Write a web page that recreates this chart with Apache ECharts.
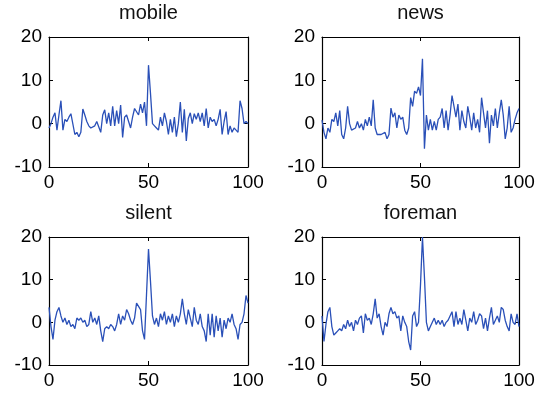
<!DOCTYPE html>
<html>
<head>
<meta charset="utf-8">
<script src="https://cdn.jsdelivr.net/npm/echarts@6/dist/echarts.min.js"></script>
<style>html,body{margin:0;padding:0;background:#fff}#c{width:544px;height:393px}</style>
</head>
<body>
<div id="c"></div>
<script>
var titles = ['mobile', 'news', 'silent', 'foreman'];
var xTicks = [0, 50, 100];
var yTicks = [-10, 0, 10, 20];

var mobile = [-1,0,1.5,2.5,-1.5,2,5.3,-1.5,1,0.5,
1.5,2.3,2.5,-2.5,-2,-3,-2,3.4,2,0.5,
-0.5,-1,-1,-0.5,0.5,0.5,-2,2,3.2,0,
2.5,-0.5,4,-0.5,3,0,4.3,-3.2,1.5,2,
0.5,-1,1.5,3.5,3.2,2,4.5,2.5,5,-0.5,
13.5,7,0,-0.5,-1,-1.5,1.5,-0.5,2.5,0.5,
-2.5,1,-2,1.5,-3,0,5,-2,3.3,-4,
1.2,2.5,0,2.3,1,2.5,0.5,2.5,-0.5,3.5,
-1,1.5,0.5,1,-0.5,1,3.3,-2.5,0.5,2.8,
-2.5,-0.5,-2,-1,-1.5,-2,5.3,3.5,0,0.5,
0];

var news = [0.8,-2,-3.5,-1,-2,1,0.5,2.5,-0.5,3,
-2.5,-3.5,-1,4,0,-1.5,-1.5,-1,0.5,-1,
0,-1.5,1,-0.5,1.5,-0.5,5.5,-1,-2.5,-2.5,
-2.5,-2.5,-2,-3.5,-2.5,3.6,1.5,2.5,-1,2,
1,1.5,-1.5,-2.5,-1,6,4,7.5,7,8.5,
6.5,15,-5.8,2,-1.5,1,-1.5,0.5,-1.5,1,
1.5,3.5,-1,3,-1.5,2,6.5,4,1.5,4.5,
-1.5,3,0.5,-1,4,1.5,-1.5,2.5,-1,1,
-2,6,2.5,-1,3,-4.5,2,-0.5,3.5,-1,
2.5,5.5,2,-3.5,-1,4,-2,-1,1,2.5,
3.5];

var silent = [3.5,-1,-4,0.5,2.5,3.5,1.5,0,1,-0.5,
0.5,-1,-0.5,-1.5,1,0.5,1,0,0.5,-1,
-0.5,2.5,0,1,-0.5,1.5,-2,-4.5,-1.5,-1,
-1.5,-0.5,-1,-2,-0.5,2,-0.5,1.5,0.5,3,
2,0.5,-0.5,1,4.5,4.5,3,-2,-4,6.5,
17.2,9.6,1.5,-0.5,1,-1,2,0.5,2.5,-0.5,
1.5,0,2,-1,1.5,0,2,5.5,2,-0.5,
3,1,-1,3.5,0.5,-0.5,2,-1,-2,-4.5,
2,-3,2,-3.5,1.5,-2,1,-3.5,0.5,-1.5,
1,0,2,-0.5,-1.5,-4,-0.5,0,2,6.3,
4.5];

var foreman = [1.5,-4.5,-0.5,2.5,3.5,-1,-3,-2.5,-2,-1.5,
-2,-0.5,-1.5,0.5,-1,0,-2,0.5,-0.5,1,
1.5,-2.5,2,0.5,1,-0.5,2,5.5,1,2,
-1,-3,0,-1,2,3.5,2,2.5,1,1.5,
-2,1.5,0,-1,-4.5,-6.5,1.5,2.5,-1,0,
8.8,20,10.6,0,-2,-1,0,1,-0.5,0.5,
-0.5,0.5,-1,0,0.5,1.5,2.5,-1,2.5,-0.5,
1,-0.5,3,0.5,-2,1,0,2.5,-0.5,0.5,
2,1.5,-1.5,1,-2,1,3.5,-0.5,0.5,1.5,
0,3.5,3,0.5,-1,-2,2,0,-0.5,2,
-1];

var seriesData = [mobile, news, silent, foreman];

var grids = [
  {left: 49, top: 37, width: 199, height: 130},
  {left: 322, top: 37, width: 197, height: 130},
  {left: 49, top: 237, width: 199, height: 128},
  {left: 322, top: 237, width: 197, height: 128}
];

var FONT = '"Liberation Sans", Arial, Helvetica, sans-serif';
var LINE = '#2a50b8';

var option = {
  animation: false,
  backgroundColor: '#fff',
  grid: grids.map(function (g) { return Object.assign({containLabel: false}, g); }),
  xAxis: [],
  yAxis: [],
  series: [],
  graphic: []
};

grids.forEach(function (g, k) {
  var axisLine = {show: true, onZero: false, lineStyle: {color: '#000', width: 1.2}};
  var tick = {show: true, inside: true, length: 4, lineStyle: {color: '#000', width: 1}};
  option.xAxis.push({
    type: 'value', gridIndex: k, min: xTicks[0], max: xTicks[xTicks.length - 1], interval: 50,
    position: 'bottom', axisLine: axisLine, axisTick: tick, splitLine: {show: false},
    axisLabel: {show: true, color: '#000', fontSize: 19, fontFamily: FONT, margin: 6}
  });
  option.xAxis.push({
    type: 'value', gridIndex: k, min: xTicks[0], max: xTicks[xTicks.length - 1], interval: 50,
    position: 'top', axisLine: axisLine, axisTick: tick, splitLine: {show: false},
    axisLabel: {show: false}
  });
  option.yAxis.push({
    type: 'value', gridIndex: k, min: yTicks[0], max: yTicks[yTicks.length - 1], interval: 10,
    position: 'left', axisLine: axisLine, axisTick: tick, splitLine: {show: false},
    axisLabel: {show: true, color: '#000', fontSize: 19, fontFamily: FONT, margin: 7}
  });
  option.yAxis.push({
    type: 'value', gridIndex: k, min: yTicks[0], max: yTicks[yTicks.length - 1], interval: 10,
    position: 'right', axisLine: axisLine, axisTick: tick, splitLine: {show: false},
    axisLabel: {show: false}
  });
  option.series.push({
    type: 'line', xAxisIndex: k * 2, yAxisIndex: k * 2, showSymbol: false, symbol: 'none',
    data: seriesData[k].map(function (v, i) { return [i, v]; }),
    lineStyle: {color: LINE, width: 1.3}, itemStyle: {color: LINE}
  });
  option.graphic.push({
    type: 'text', x: g.left + g.width / 2, y: g.top - 24,
    style: {text: titles[k], fill: '#111', font: '20px ' + FONT, align: 'center', verticalAlign: 'middle'}
  });
});

var chart = echarts.init(document.getElementById('c'), null, {renderer: 'canvas'});
chart.setOption(option);
</script>
</body>
</html>
